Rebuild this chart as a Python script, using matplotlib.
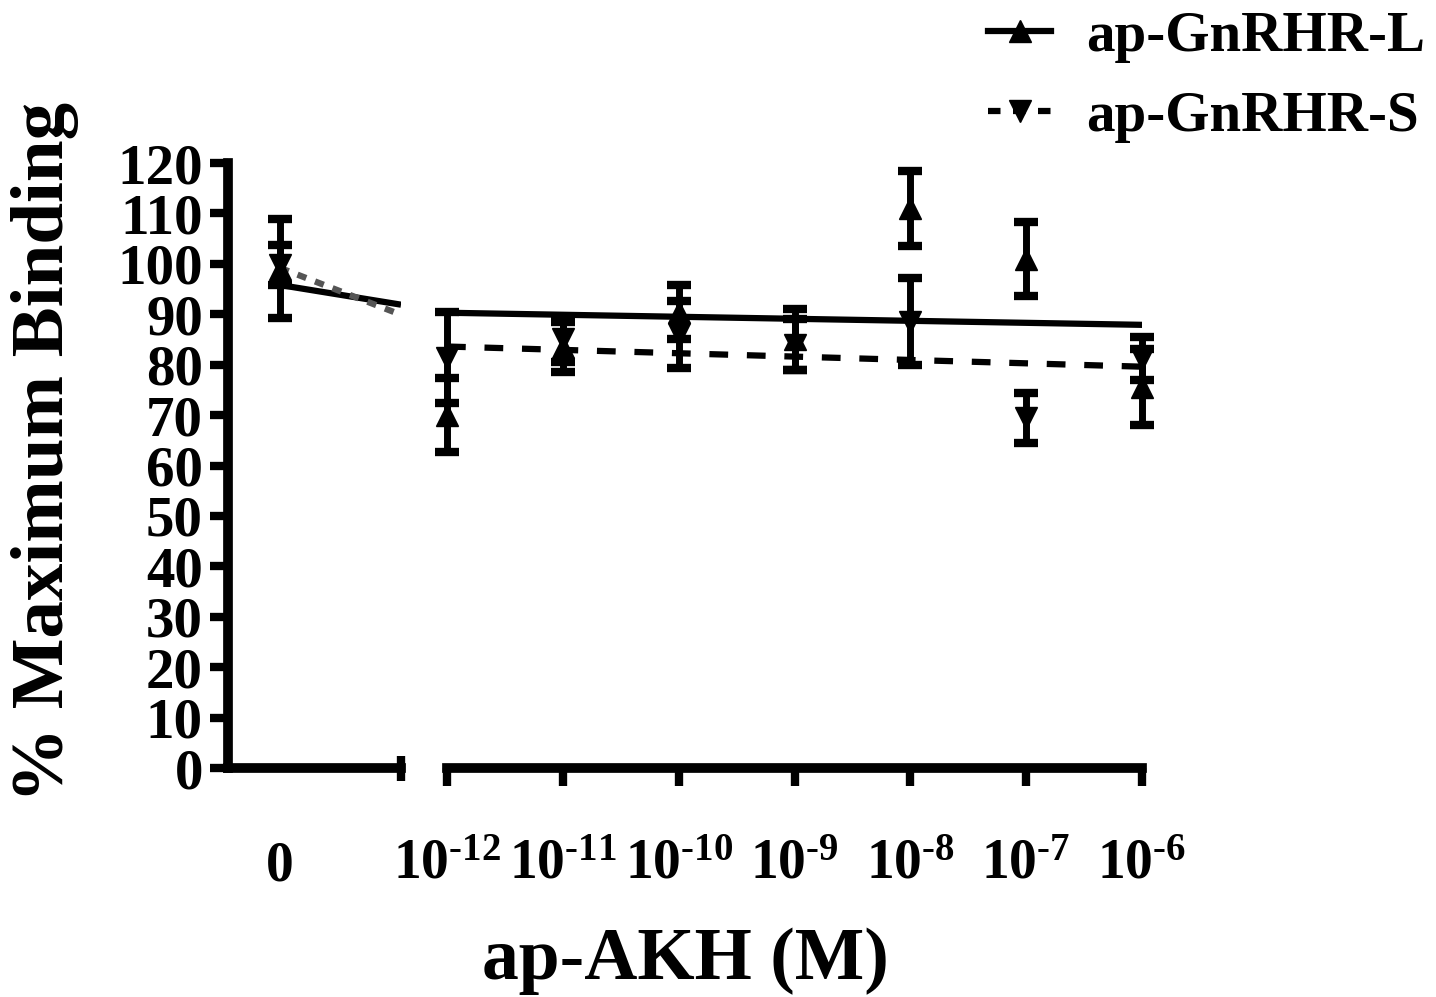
import matplotlib
matplotlib.use("Agg")
import matplotlib.pyplot as plt
import numpy as np

plt.rcParams['font.family'] = ['Liberation Serif', 'DejaVu Serif']
plt.rcParams['font.weight'] = 'bold'
plt.rcParams['mathtext.fontset'] = 'custom'
plt.rcParams['mathtext.rm'] = 'Liberation Serif:bold'
plt.rcParams['mathtext.bf'] = 'Liberation Serif:bold'
plt.rcParams['mathtext.it'] = 'Liberation Serif:bold'

# ---- data ----
log_conc = [-12, -11, -10, -9, -8, -7, -6]
x_tick_labels = ['$\\mathbf{10^{\u201012}}$', '$\\mathbf{10^{\u201011}}$', '$\\mathbf{10^{\u201010}}$',
                 '$\\mathbf{10^{\u20109}}$', '$\\mathbf{10^{\u20108}}$', '$\\mathbf{10^{\u20107}}$',
                 '$\\mathbf{10^{\u20106}}$']
zero_label = '0'

L_zero, L_zero_err = 99.0, 9.8
S_zero, S_zero_err = 99.8, 3.9
L_mean = [70.0, 83.5, 90.4, 85.0, 111.0, 101.0, 75.6]
L_err = [7.4, 5.0, 5.4, 6.0, 7.4, 7.3, 7.5]
S_mean = [81.4, 85.0, 86.0, 84.0, 88.5, 69.4, 81.2]
S_err = [9.1, 4.5, 6.7, 5.0, 8.6, 4.9, 4.2]

# fitted lines (values at the ends of each axis segment)
fit_L_left = [95.8, 91.9]
fit_S_left = [99.2, 89.9]
fit_L_right = [90.3, 87.9]
fit_S_right = [83.6, 79.6]

y_ticks = list(range(0, 121, 10))
legend_labels = ['ap-GnRHR-L', 'ap-GnRHR-S']
y_label = '% Maximum Binding'
x_label = 'ap-AKH (M)'

# ---- figure ----
W, H = 1436, 997
fig = plt.figure(figsize=(W / 100, H / 100), dpi=100)

y_bot = (H - 768) / H
y_top = (H - 163) / H
axL = fig.add_axes([228 / W, y_bot, 173 / W, y_top - y_bot])
axR = fig.add_axes([447 / W, y_bot, 695 / W, y_top - y_bot])

spine_lw = 7
tick_len = 13
tick_w = 6
tick_fs = 40
err_kw = dict(fmt='none', ecolor='black', elinewidth=5, capsize=8.5, capthick=6, clip_on=False)
ms = 16
fit_lw = 4.5

for ax in (axL, axR):
    ax.set_ylim(0, 120)
    for s in ['top', 'right']:
        ax.spines[s].set_visible(False)
    ax.spines['bottom'].set_linewidth(spine_lw)
    ax.spines['left'].set_linewidth(spine_lw)
    ax.patch.set_visible(False)

# left segment
axL.set_xlim(-0.43, 1.0)
axL.set_yticks(y_ticks)
axL.set_yticklabels([str(v) for v in y_ticks], fontsize=tick_fs + 1, fontweight='bold')
axL.tick_params(axis='y', direction='out', length=tick_len, width=tick_w, pad=5)
axL.set_xticks([0])
axL.set_xticklabels([zero_label], fontsize=tick_fs, fontweight='bold')
axL.tick_params(axis='x', which='major', length=0, pad=52)
axL.set_xticks([1.0], minor=True)
axL.tick_params(axis='x', which='minor', direction='inout', length=18, width=tick_w)

axL.plot([0, 1.0], fit_L_left, '-', color='black', lw=fit_lw, solid_capstyle='butt')
axL.plot([0, 1.0], fit_S_left, '--', color='#555555', lw=fit_lw, dashes=(1.5, 1.5))
axL.errorbar([0], [L_zero], yerr=[L_zero_err], **err_kw)
axL.errorbar([0], [S_zero], yerr=[S_zero_err], **err_kw)
axL.plot([0], [L_zero], '^', color='black', ms=ms, clip_on=False)
axL.plot([0], [S_zero], 'v', color='black', ms=ms, clip_on=False)

# right segment
axR.spines['left'].set_visible(False)
axR.set_xlim(log_conc[0], log_conc[-1])
axR.set_yticks([])
axR.set_xticks(log_conc)
axR.set_xticklabels(x_tick_labels, fontsize=tick_fs)
axR.tick_params(axis='x', which='major', direction='out', length=tick_len, width=tick_w, pad=38)
axR.set_xticks([log_conc[0]], minor=True)
axR.tick_params(axis='x', which='minor', direction='in', length=8, width=tick_w)

axR.plot([log_conc[0], log_conc[-1]], fit_L_right, '-', color='black', lw=fit_lw)
axR.plot([log_conc[0], log_conc[-1]], fit_S_right, '--', color='black', lw=fit_lw, dashes=(3, 3))
axR.errorbar(log_conc, L_mean, yerr=L_err, **err_kw)
axR.errorbar(log_conc, S_mean, yerr=S_err, **err_kw)
axR.plot(log_conc, L_mean, '^', color='black', ms=ms, ls='none', clip_on=False)
axR.plot(log_conc, S_mean, 'v', color='black', ms=ms, ls='none', clip_on=False)

# legend
hL, = fig.axes[0].plot([], [], '-^', color='black', lw=fit_lw, ms=ms)
hS, = fig.axes[0].plot([], [], '--v', color='black', lw=fit_lw, ms=ms, dashes=(2, 2))
fig.legend([hL, hS], legend_labels, loc='upper right', bbox_to_anchor=(1428 / W, 1 - 8 / H),
           frameon=False, prop=dict(family='Liberation Serif', weight='bold', size=41),
           handlelength=1.1, handletextpad=0.62, labelspacing=0.5, borderaxespad=0.0,
           borderpad=0.05)

fig.text(45 / W, (H - 452) / H, y_label, rotation=90, fontsize=54, fontweight='bold',
         ha='center', va='center')
fig.text(685 / W, (H - 961) / H, x_label, fontsize=53, fontweight='bold',
         ha='center', va='center')

fig.savefig('out.png', dpi=100)
